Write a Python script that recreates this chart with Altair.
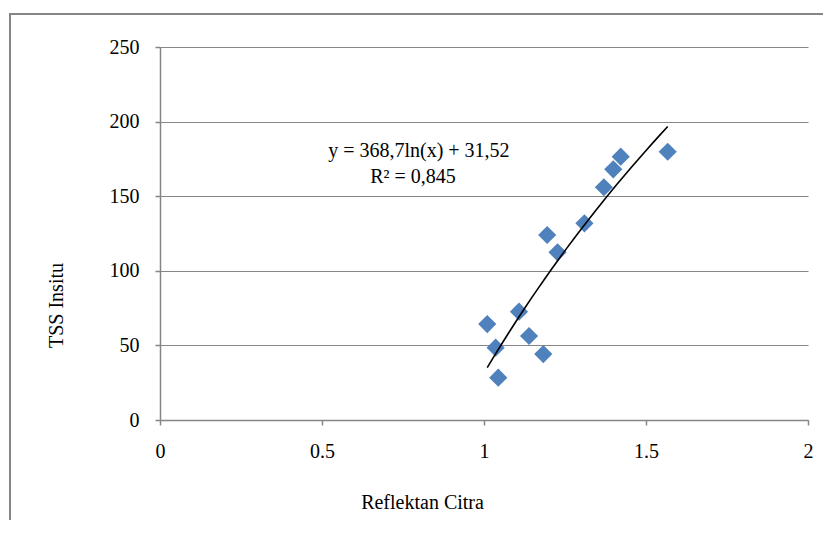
import altair as alt
import pandas as pd

# Data
refl = [1.010, 1.036, 1.044, 1.108, 1.139, 1.183, 1.195, 1.227, 1.310, 1.370, 1.399, 1.422, 1.567]
tss = [64.3, 48.5, 28.4, 72.6, 56.3, 44.2, 124.0, 112.4, 131.8, 156.0, 168.0, 176.5, 179.8]

eq_text = ["y = 368,7ln(x) + 31,52", "R² = 0,845"]
eq_x = [0.799, 0.781]
eq_y = [180.4, 163.0]

x_ticks = [0, 0.5, 1, 1.5, 2]
y_ticks = [0, 50, 100, 150, 200, 250]

df = pd.DataFrame({"x": refl, "y": tss})
eq_df = pd.DataFrame({"t": eq_text, "x": eq_x, "y": eq_y})

FONT = "Liberation Serif"
GRAY = "#868686"

x_scale = alt.Scale(domain=[0, 2], nice=False, zero=False)
y_scale = alt.Scale(domain=[0, 250], nice=False)

x_axis = alt.Axis(
    values=x_ticks, format="~r", title="Reflektan Citra", grid=False,
    labelFont=FONT, labelFontSize=20, labelColor="black", labelPadding=26,
    labelBaseline="middle", labelFlush=False,
    titleFont=FONT, titleFontSize=20, titleFontWeight="normal", titleColor="black",
    titleX=262, titleY=82, titleBaseline="middle", titleAlign="center",
    domainColor=GRAY, domainWidth=1.5, tickColor=GRAY, tickSize=5, tickWidth=1.5,
)
y_axis = alt.Axis(
    values=y_ticks, format="d", title="TSS Insitu", grid=True, gridColor=GRAY, gridWidth=1.2,
    labelFont=FONT, labelFontSize=20, labelColor="black", labelPadding=16,
    titleFont=FONT, titleFontSize=20, titleFontWeight="normal", titleColor="black",
    titleX=-104, titleY=258, titleBaseline="middle", titleAlign="center", titleAngle=270,
    domainColor=GRAY, domainWidth=1.5, tickColor=GRAY, tickSize=5, tickWidth=1.5,
)

frame_data = alt.Data(values=[{"k": 0}])
frame_top = alt.Chart(frame_data).mark_rule(color=GRAY, strokeWidth=2).encode(
    x=alt.value(-151), x2=alt.value(700), y=alt.value(-33)
)
frame_left = alt.Chart(frame_data).mark_rule(color=GRAY, strokeWidth=2).encode(
    x=alt.value(-150), y=alt.value(-34), y2=alt.value(520)
)

points = alt.Chart(df).mark_point(
    shape="diamond", filled=True, size=330, color="#4F81BD", opacity=1
).encode(
    x=alt.X("x:Q", scale=x_scale, axis=x_axis),
    y=alt.Y("y:Q", scale=y_scale, axis=y_axis),
)

trend = alt.Chart(df).transform_regression(
    "x", "y", method="log"
).mark_line(color="black", strokeWidth=1.6).encode(
    x=alt.X("x:Q", scale=x_scale),
    y=alt.Y("y:Q", scale=y_scale),
)

eq = alt.Chart(eq_df).mark_text(
    font=FONT, fontSize=20, color="black", align="center", baseline="middle"
).encode(
    x=alt.X("x:Q", scale=x_scale),
    y=alt.Y("y:Q", scale=y_scale),
    text="t:N",
)

chart = alt.layer(frame_top, frame_left, points, trend, eq).properties(
    width=648, height=373,
    autosize=alt.AutoSizeParams(type="none"),
    padding={"left": 152, "top": 39, "right": 15, "bottom": 100},
    background="white",
).configure(font=FONT).configure_axis(
    labelFont=FONT, titleFont=FONT
).configure_view(stroke=None)

chart.save("out.html", embed_options={"renderer": "svg", "actions": False})
